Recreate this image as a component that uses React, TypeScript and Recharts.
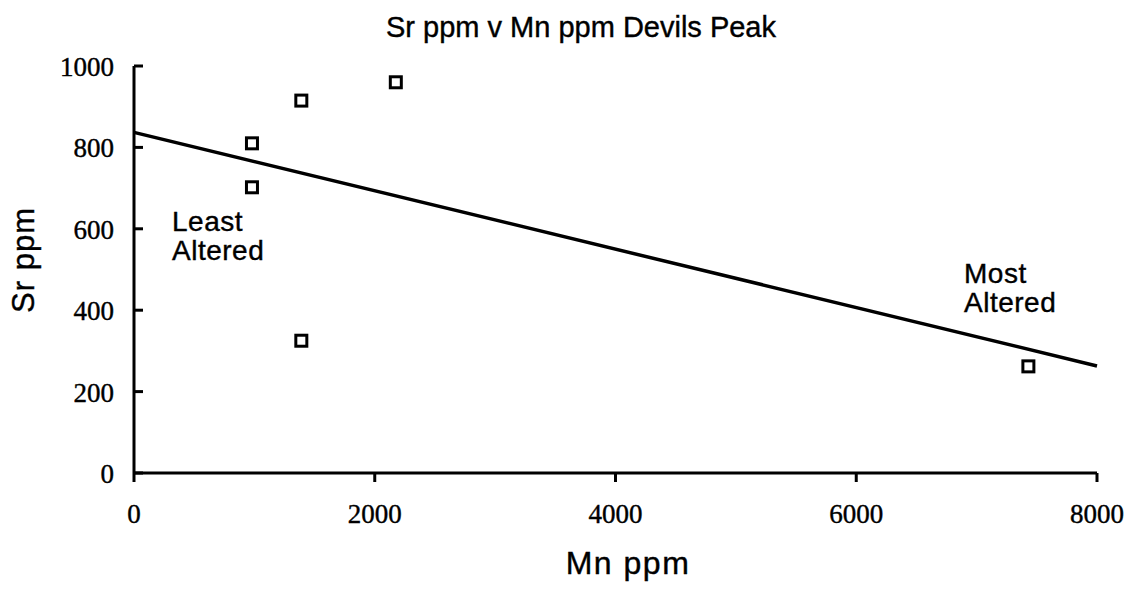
import React from "react";
import {
  ComposedChart,
  Scatter,
  XAxis,
  YAxis,
  ReferenceLine,
} from "recharts";

// Mn ppm (x) vs Sr ppm (y)
const mnValues = [980, 980, 1390, 2175, 1390, 7430];
const srValues = [810, 702, 915, 960, 325, 262];

// fitted trend line end points
const trendX = [0, 8000];
const trendY = [837, 263];

const xTicks = [0, 2000, 4000, 6000, 8000];
const yTicks = [0, 200, 400, 600, 800, 1000];

const points = mnValues.map((mn, i) => ({ mn, sr: srValues[i] }));

const serif = "'Liberation Serif', 'Times New Roman', serif";
const sans = "'Liberation Sans', Arial, sans-serif";

// open square marker
function SquareMarker(props: any) {
  const { cx, cy } = props;
  if (cx == null || cy == null) return null;
  return (
    <rect
      x={cx - 5.5}
      y={cy - 5.5}
      width={11}
      height={11}
      fill="#fff"
      stroke="#000"
      strokeWidth={3}
    />
  );
}

// y ticks point into the plot, labels sit on the outside
function YTick(props: any) {
  const { x, y, payload } = props;
  const axisX = x + 20;
  return (
    <g>
      <line x1={axisX} y1={y} x2={axisX + 9} y2={y} stroke="#000" strokeWidth={3} />
      <text
        x={x}
        y={y}
        dy={10}
        textAnchor="end"
        fill="#000"
        fontFamily={serif}
        fontSize={27}
        stroke="#000"
        strokeWidth={0.4}
      >
        {payload.value}
      </text>
    </g>
  );
}

const textStyle = {
  position: "absolute" as const,
  fontFamily: sans,
  color: "#000",
  whiteSpace: "nowrap" as const,
  WebkitTextStroke: "0.4px #000",
};

export default function App() {
  return (
    <div
      style={{
        position: "absolute",
        left: 0,
        top: 0,
        width: 1138,
        height: 594,
        background: "#fff",
      }}
    >
      <div
        style={{
          ...textStyle,
          left: 0,
          width: 1162,
          top: 11,
          textAlign: "center",
          fontSize: 29,
        }}
      >
        Sr ppm v Mn ppm Devils Peak
      </div>
      <div
        style={{
          ...textStyle,
          left: 24,
          top: 260,
          transform: "translate(-50%, -50%) rotate(-90deg)",
          fontSize: 31,
          letterSpacing: 1,
        }}
      >
        Sr ppm
      </div>
      <div
        style={{
          ...textStyle,
          left: 0,
          width: 1256,
          top: 545,
          textAlign: "center",
          fontSize: 32,
          letterSpacing: 1.5,
        }}
      >
        Mn ppm
      </div>
      <div
        style={{
          ...textStyle,
          left: 172,
          top: 207,
          fontSize: 28,
          lineHeight: "29px",
          letterSpacing: 0.5,
        }}
      >
        Least
        <br />
        Altered
      </div>
      <div
        style={{
          ...textStyle,
          left: 964,
          top: 259,
          fontSize: 28,
          lineHeight: "29px",
          letterSpacing: 0.5,
        }}
      >
        Most
        <br />
        Altered
      </div>
      <ComposedChart
        width={1138}
        height={594}
        margin={{ top: 66, right: 41, bottom: 61, left: 0 }}
        style={{ position: "absolute", left: 0, top: 0 }}
      >
        <XAxis
          type="number"
          dataKey="mn"
          domain={[0, 8000]}
          ticks={xTicks}
          interval={0}
          allowDataOverflow
          height={60}
          axisLine={{ stroke: "#000", strokeWidth: 3 }}
          tickLine={{ stroke: "#000", strokeWidth: 3 }}
          tickSize={9}
          tickMargin={22}
          tick={{
            fill: "#000",
            fontFamily: serif,
            fontSize: 27,
            stroke: "#000",
            strokeWidth: 0.4,
          }}
        />
        <YAxis
          type="number"
          dataKey="sr"
          domain={[0, 1000]}
          ticks={yTicks}
          interval={0}
          allowDataOverflow
          width={134}
          axisLine={{ stroke: "#000", strokeWidth: 3 }}
          tickLine={false}
          tickSize={0}
          tickMargin={20}
          tick={<YTick />}
        />
        <ReferenceLine
          segment={[
            { x: trendX[0], y: trendY[0] },
            { x: trendX[1], y: trendY[1] },
          ]}
          stroke="#000"
          strokeWidth={3.5}
          ifOverflow="visible"
        />
        <Scatter
          data={points}
          dataKey="sr"
          shape={<SquareMarker />}
          isAnimationActive={false}
        />
      </ComposedChart>
    </div>
  );
}
